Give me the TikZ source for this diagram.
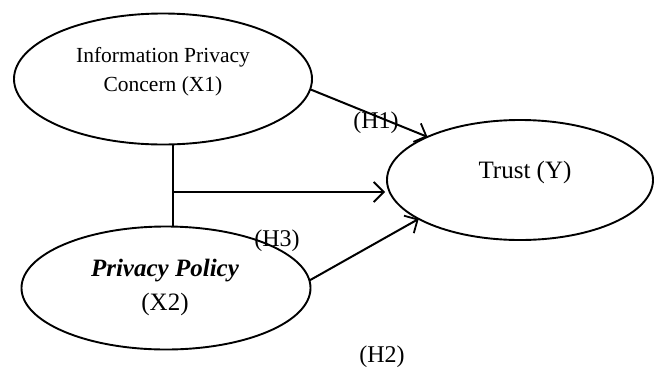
\documentclass[tikz,border=0pt]{standalone}
\usepackage{fontspec}
\setmainfont{Liberation Serif}
\usetikzlibrary{shapes.geometric,arrows.meta}
\begin{document}
\begin{tikzpicture}[x=1pt,y=-1pt,
  oval/.style={draw,ellipse,line width=1.9pt,inner sep=0pt,outer sep=0pt},
  conn/.style={line width=2pt},
  arr/.style={conn,-{Straight Barb[length=10pt,width=20pt,line width=1.8pt]}},
  lbl/.style={inner sep=0pt,font=\fontsize{24}{28}\selectfont}]
\useasboundingbox (0,0) rectangle (655,370);
\node[oval,minimum width=298pt,minimum height=131pt] (x1) at (163,79) {};
\node[oval,minimum width=289pt,minimum height=123pt] (x2) at (166,288) {};
\node[oval,minimum width=266pt,minimum height=120pt] (y) at (520,180) {};
\node[inner sep=0pt,align=center,font=\fontsize{21.5}{29}\selectfont] (t1) at (163,72) {Information Privacy\\Concern (X1)};
\node[inner sep=0pt,align=center,font=\fontsize{25}{34}\selectfont] (t2) at (165,287) {\textbf{\textit{Privacy Policy}}\\(X2)};
\node[inner sep=0pt,font=\fontsize{25}{30}\selectfont] (t3) at (525,172) {Trust (Y)};
\coordinate (j) at (173,192);
\coordinate (tip) at (385,192);
\draw[conn] (j |- x1.south) -- (j |- x2.north);
\draw[arr] (j) -- (tip);
\draw[arr] (x1.-4) -- (y.155);
\draw[arr] (x2.3) -- (y.201);
\node[lbl] (h1) at (376,123) {(H1)};
\node[lbl] (h3) at (277,241) {(H3)};
\node[lbl] (h2) at (382,357) {(H2)};
\end{tikzpicture}
\end{document}
